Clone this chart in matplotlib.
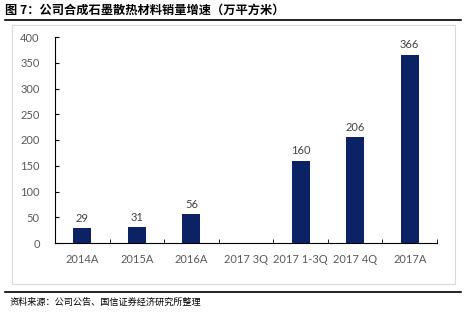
import numpy as np
import matplotlib
matplotlib.use("Agg")
import matplotlib.pyplot as plt
from matplotlib.patches import Rectangle
from matplotlib.lines import Line2D

categories = ["2014A", "2015A", "2016A", "2017 3Q", "2017 1-3Q", "2017 4Q", "2017A"]
sales = [29, 31, 56, np.nan, 160, 206, 366]

title = "图 7：公司合成石墨散热材料销量增速（万平方米）"
source = "资料来源：公司公告、国信证券经济研究所整理"

cjk = ["Noto Sans CJK SC", "DejaVu Sans"]
W, H = 466, 315
fig = plt.figure(figsize=(W / 100, H / 100), dpi=100)

# header / footer rules and light chart frame
fig.add_artist(Line2D([5 / W, 461 / W], [1 - 19.5 / H, 1 - 19.5 / H], color="black", lw=1.2))
fig.add_artist(Line2D([5 / W, 461 / W], [1 - 291.5 / H, 1 - 291.5 / H], color="black", lw=1.2))
fig.add_artist(Rectangle((12 / W, 1 - 284 / H), 443 / W, 259 / H, fill=False,
                         edgecolor="#d9d9d9", lw=0.8))

fig.text(5 / W, 1 - 10 / H, title, family=cjk, fontweight="heavy", fontsize=8.8,
         va="center", ha="left")
fig.text(10 / W, 1 - 302 / H, source, family=cjk, fontsize=6.6, va="center", ha="left")

ax = fig.add_axes([55 / W, 1 - 243 / H, 382 / W, 206 / H])
x = np.arange(len(categories))
ax.bar(x, sales, width=0.33, color="#0b2265")
for xi, v in zip(x, sales):
    if not np.isnan(v):
        ax.text(xi, v + 8, f"{v:.0f}", ha="center", va="bottom", fontsize=8,
                color="#404040", family="Lato")

ax.set_xlim(-0.5, len(categories) - 0.5)
ax.set_ylim(0, 400)
ax.set_yticks(range(0, 401, 50))
ax.set_xticks(x)
ax.set_xticklabels(categories)
ax.set_xticks(np.arange(-0.5, len(categories), 1), minor=True)
ax.tick_params(axis="x", which="major", length=0, pad=8)
ax.tick_params(axis="x", which="minor", direction="in", length=3, color="black")
ax.tick_params(axis="y", direction="in", length=3, pad=11)
for lab in ax.get_xticklabels() + ax.get_yticklabels():
    lab.set_fontsize(8)
    lab.set_color("#595959")
    lab.set_family("Lato")
for s in ["top", "right"]:
    ax.spines[s].set_visible(False)
ax.spines["left"].set_linewidth(0.8)
ax.spines["bottom"].set_linewidth(0.8)

fig.savefig("out.png", dpi=100)
